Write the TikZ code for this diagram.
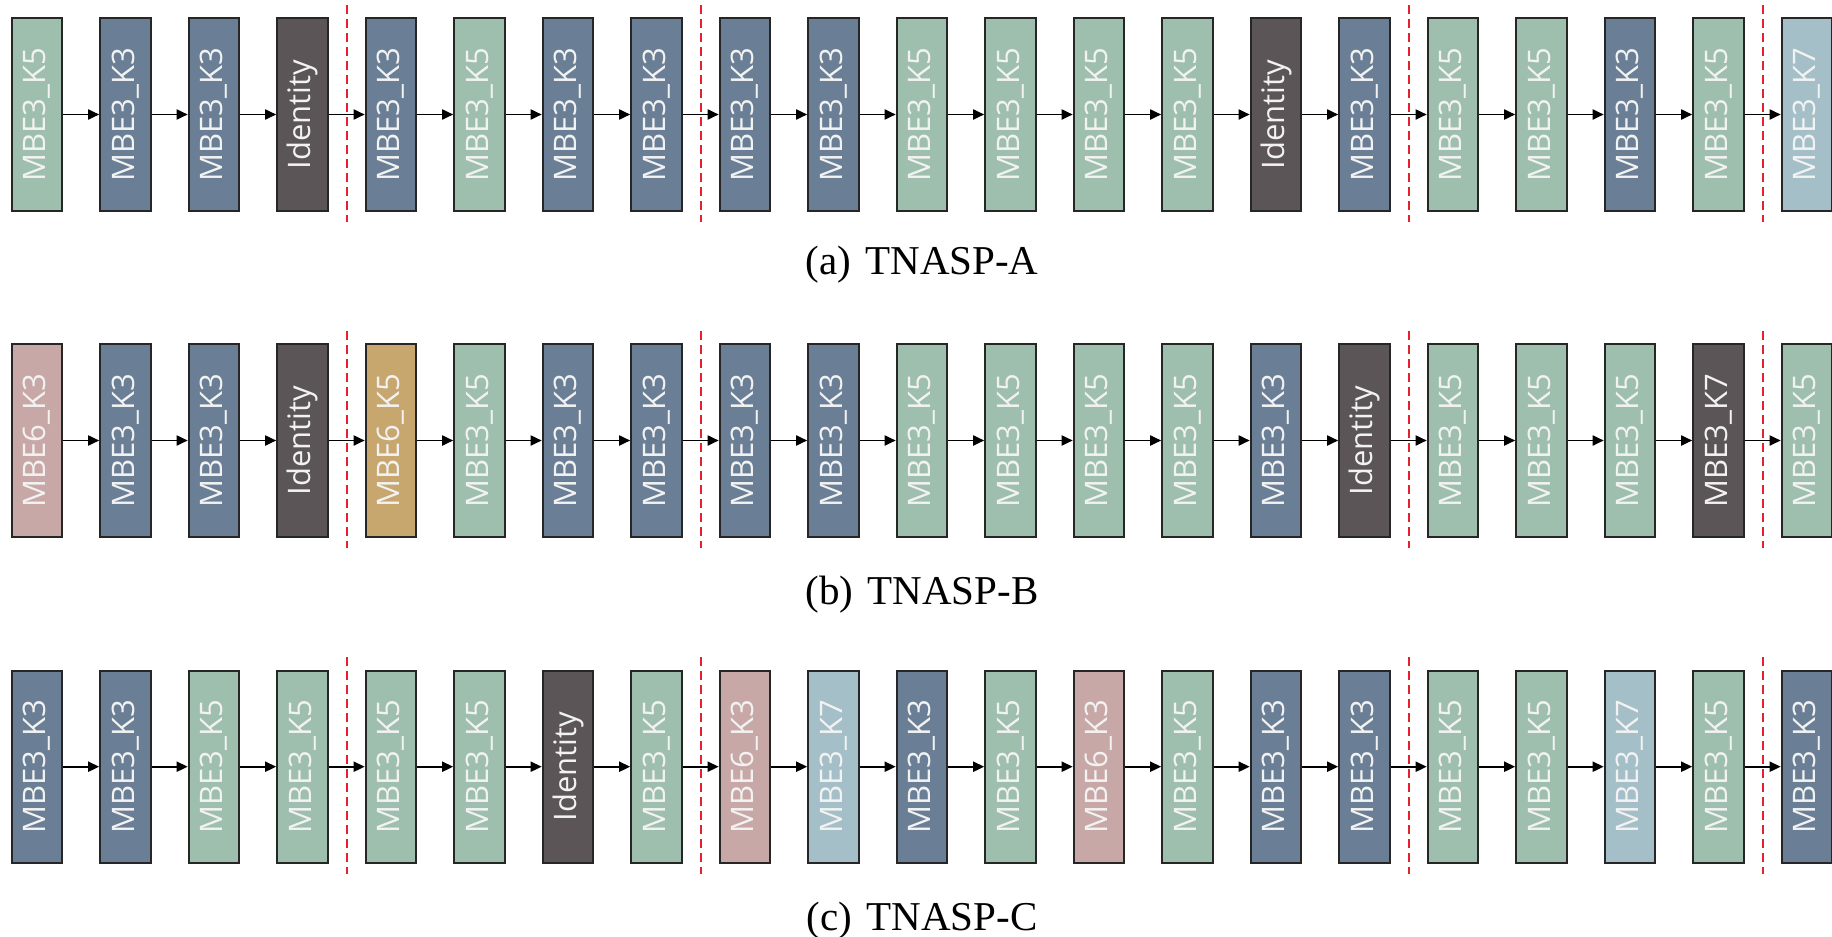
\documentclass[tikz,border=0pt]{standalone}
\usepackage{fontspec}
\usepackage{graphicx}
\setmainfont{Liberation Serif}
\newfontfamily\boxfont{Open Sans}
\usetikzlibrary{arrows.meta}
\definecolor{cgreen}{HTML}{9EBFAD}
\definecolor{cblue}{HTML}{6A7F96}
\definecolor{cdark}{HTML}{5B5557}
\definecolor{cpink}{HTML}{C8A8A6}
\definecolor{ctan}{HTML}{C8A76F}
\definecolor{clight}{HTML}{A4BFC8}
\definecolor{cred}{HTML}{E8202A}
\begin{document}
\begin{tikzpicture}[x=1pt,y=-1pt,
  blk/.style={draw=black!85, line width=2pt, minimum width=50.5pt, minimum height=192.4pt,
    inner sep=0pt, text={white!95!black}, font=\boxfont\fontsize{31}{31}\selectfont},
  arr/.style={line width=1.8pt, -{Triangle[length=11pt,width=10pt]}},
  sepline/.style={draw=cred, line width=2pt, dash pattern=on 9pt off 5pt},
  captxt/.style={anchor=base, font=\fontsize{41}{41}\selectfont}]
\useasboundingbox (0,0) rectangle (1832,937);
% Row A
\foreach \lab/\col [count=\i from 0] in {MBE3\_K5/cgreen, MBE3\_K3/cblue, MBE3\_K3/cblue, Identity/cdark,
  MBE3\_K3/cblue, MBE3\_K5/cgreen, MBE3\_K3/cblue, MBE3\_K3/cblue,
  MBE3\_K3/cblue, MBE3\_K3/cblue, MBE3\_K5/cgreen, MBE3\_K5/cgreen, MBE3\_K5/cgreen, MBE3\_K5/cgreen, Identity/cdark, MBE3\_K3/cblue,
  MBE3\_K5/cgreen, MBE3\_K5/cgreen, MBE3\_K3/cblue, MBE3\_K5/cgreen, MBE3\_K7/clight}
  \node[blk, fill=\col] (A\i) at ({36.95+88.5*\i},114.5) {\rotatebox{90}{\lab}};
% Row B
\foreach \lab/\col [count=\i from 0] in {MBE6\_K3/cpink, MBE3\_K3/cblue, MBE3\_K3/cblue, Identity/cdark,
  MBE6\_K5/ctan, MBE3\_K5/cgreen, MBE3\_K3/cblue, MBE3\_K3/cblue,
  MBE3\_K3/cblue, MBE3\_K3/cblue, MBE3\_K5/cgreen, MBE3\_K5/cgreen, MBE3\_K5/cgreen, MBE3\_K5/cgreen, MBE3\_K3/cblue, Identity/cdark,
  MBE3\_K5/cgreen, MBE3\_K5/cgreen, MBE3\_K5/cgreen, MBE3\_K7/cdark, MBE3\_K5/cgreen}
  \node[blk, fill=\col] (B\i) at ({36.95+88.5*\i},440.5) {\rotatebox{90}{\lab}};
% Row C
\foreach \lab/\col [count=\i from 0] in {MBE3\_K3/cblue, MBE3\_K3/cblue, MBE3\_K5/cgreen, MBE3\_K5/cgreen,
  MBE3\_K5/cgreen, MBE3\_K5/cgreen, Identity/cdark, MBE3\_K5/cgreen,
  MBE6\_K3/cpink, MBE3\_K7/clight, MBE3\_K3/cblue, MBE3\_K5/cgreen, MBE6\_K3/cpink, MBE3\_K5/cgreen, MBE3\_K3/cblue, MBE3\_K3/cblue,
  MBE3\_K5/cgreen, MBE3\_K5/cgreen, MBE3\_K7/clight, MBE3\_K5/cgreen, MBE3\_K3/cblue}
  \node[blk, fill=\col] (C\i) at ({36.95+88.5*\i},766.7) {\rotatebox{90}{\lab}};
% connectors
\foreach \r in {A,B,C}{
  \foreach \i [evaluate=\i as \j using {int(\i+1)}] in {0,...,19}
    \draw[arr] (\r\i) -- (\r\j);
}
% stage separators
\foreach \x in {346.7,700.7,1408.7,1762.7}{
  \draw[sepline] (\x,5) -- (\x,222);
  \draw[sepline] (\x,331) -- (\x,548);
  \draw[sepline] (\x,657) -- (\x,874);
}
% captions
\node[captxt] (capA) at (922,274.3) {(a)\hspace{0.35em}TNASP-A};
\node[captxt] (capB) at (922,604.3) {(b)\hspace{0.35em}TNASP-B};
\node[captxt] (capC) at (922,930.3) {(c)\hspace{0.35em}TNASP-C};
\end{tikzpicture}
\end{document}
